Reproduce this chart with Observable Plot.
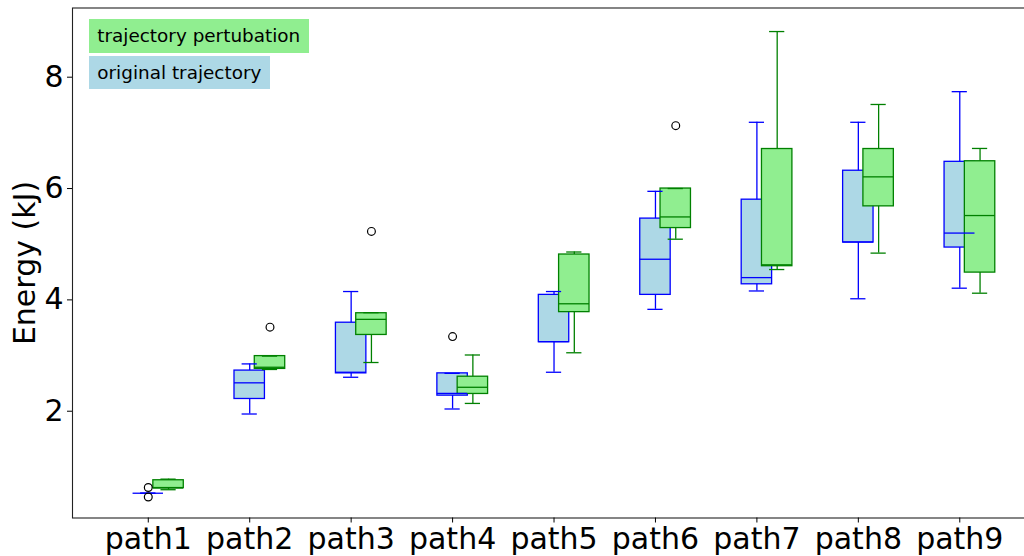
<!DOCTYPE html>
<html>
<head>
<meta charset="utf-8">
<script src="https://cdn.jsdelivr.net/npm/d3@7"></script>
<script src="https://cdn.jsdelivr.net/npm/@observablehq/plot@0.6"></script>
<style>
  html, body { margin: 0; padding: 0; background: #fff; overflow: hidden; }
  #chart { position: relative; width: 1024px; height: 556px; overflow: hidden; font-family: "DejaVu Sans", sans-serif; }
  #chart svg { max-width: none !important; }
  .key { position: absolute; left: 89px; height: 33.4px; line-height: 33.4px; padding: 0 8.3px; font-size: 18.4px; color: #000; white-space: nowrap; }
</style>
</head>
<body>
<div id="chart"></div>
<script>
// Categories along the x axis
const categories = ["path1", "path2", "path3", "path4", "path5", "path6", "path7", "path8", "path9"];

// Original trajectory: box statistics per path (kJ)
const origLow    = [0.527, 1.95, 2.61, 2.04, 2.70, 3.83, 4.16, 4.02, 4.21];
const origQ1     = [0.527, 2.22, 2.68, 2.28, 3.24, 4.09, 4.28, 5.03, 4.94];
const origMedian = [0.527, 2.51, 2.70, 2.32, 3.25, 4.73, 4.40, 5.04, 5.20];
const origQ3     = [0.527, 2.73, 3.59, 2.68, 4.09, 5.46, 5.80, 6.32, 6.48];
const origHigh   = [0.527, 2.85, 4.15, 2.68, 4.15, 5.95, 7.19, 7.19, 7.74];
const origOutliers = [[0.63, 0.46], [], [], [3.34], [], [], [], [], []];

// Trajectory perturbation: box statistics per path (kJ)
const pertLow    = [0.59, 2.75, 2.875, 2.14, 3.05, 5.09, 4.545, 4.84, 4.12];
const pertQ1     = [0.62, 2.76, 3.37, 2.31, 3.78, 5.29, 4.605, 5.68, 4.49];
const pertMedian = [0.62, 2.79, 3.65, 2.43, 3.93, 5.49, 4.63, 6.21, 5.515];
const pertQ3     = [0.76, 2.99, 3.76, 2.62, 4.815, 6.00, 6.71, 6.71, 6.49];
const pertHigh   = [0.78, 2.99, 3.77, 3.01, 4.86, 6.00, 8.82, 7.51, 6.72];
const pertOutliers = [[], [3.51], [5.23], [], [], [7.13], [], [], []];

const yTicks = [2, 4, 6, 8];
const legendLabels = ["trajectory pertubation", "original trajectory"];

// Box layout in x units: series offset from the tick, box and cap half widths
const boxHalf = 0.15, capHalf = 0.075;

function rows(offset, low, q1, med, q3, high) {
  return categories.map((c, i) => ({
    cat: c, pos: i + 1 + offset,
    low: low[i], q1: q1[i], med: med[i], q3: q3[i], high: high[i]
  }));
}
function outlierRows(offset, outliers) {
  return outliers.flatMap((vals, i) => vals.map(v => ({pos: i + 1 + offset, value: v})));
}

const orig = rows(0, origLow, origQ1, origMedian, origQ3, origHigh);
const pert = rows(0.2, pertLow, pertQ1, pertMedian, pertQ3, pertHigh);
const origOut = outlierRows(0, origOutliers);
const pertOut = outlierRows(0.2, pertOutliers);

function boxPatch(data, fill, stroke) {
  return Plot.rect(data, {
    x1: d => d.pos - boxHalf, x2: d => d.pos + boxHalf,
    y1: "q1", y2: "q3", fill, stroke, strokeWidth: 1.3
  });
}
function boxLines(data, outs, stroke) {
  const sw = 1.3;
  return [
    Plot.ruleX(data, {x: "pos", y1: "low", y2: "q1", stroke, strokeWidth: sw}),
    Plot.ruleX(data, {x: "pos", y1: "q3", y2: "high", stroke, strokeWidth: sw}),
    Plot.ruleY(data, {y: "low", x1: d => d.pos - capHalf, x2: d => d.pos + capHalf, stroke, strokeWidth: sw}),
    Plot.ruleY(data, {y: "high", x1: d => d.pos - capHalf, x2: d => d.pos + capHalf, stroke, strokeWidth: sw}),
    Plot.ruleY(data, {y: "med", x1: d => d.pos - boxHalf, x2: d => d.pos + boxHalf, stroke, strokeWidth: sw}),
    Plot.dot(outs, {x: "pos", y: "value", r: 3.9, stroke: "black", fill: "none", strokeWidth: 1.2})
  ];
}

const chart = Plot.plot({
  width: 1060,
  height: 556,
  marginLeft: 72,
  marginRight: 0,
  marginTop: 7.5,
  marginBottom: 38.5,
  style: {fontFamily: "DejaVu Sans", fontSize: "30px", color: "black", background: "white", maxWidth: "none"},
  x: {domain: [0.253, 9.993]},
  y: {domain: [0.082, 9.243]},
  marks: [
    boxPatch(orig, "lightblue", "blue"),
    boxPatch(pert, "lightgreen", "green"),
    ...boxLines(orig, origOut, "blue"),
    ...boxLines(pert, pertOut, "green"),
    Plot.frame({stroke: "#222", strokeWidth: 1.1}),
    Plot.axisY({ticks: yTicks, tickSize: 5, tickPadding: 4, fontSize: 30, label: null, tickFormat: d => String(d)}),
    Plot.axisX({ticks: d3.range(1, categories.length + 1), tickSize: 5, tickPadding: 5, fontSize: 30, label: null,
                tickFormat: d => categories[d - 1]}),
    Plot.text(["Energy (kJ)"], {frameAnchor: "left", rotate: -90, dx: -47.5, textAnchor: "middle", fontSize: 30, fill: "black"})
  ]
});
chart.style.maxWidth = "none";

const host = document.getElementById("chart");
host.appendChild(chart);

// Text-box legend in the upper left corner
const legendFills = ["lightgreen", "lightblue"];
const legendTops = [19.3, 56];
legendLabels.forEach((label, i) => {
  const el = document.createElement("div");
  el.className = "key";
  el.style.top = legendTops[i] + "px";
  el.style.background = legendFills[i];
  el.textContent = label;
  host.appendChild(el);
});
</script>
</body>
</html>
